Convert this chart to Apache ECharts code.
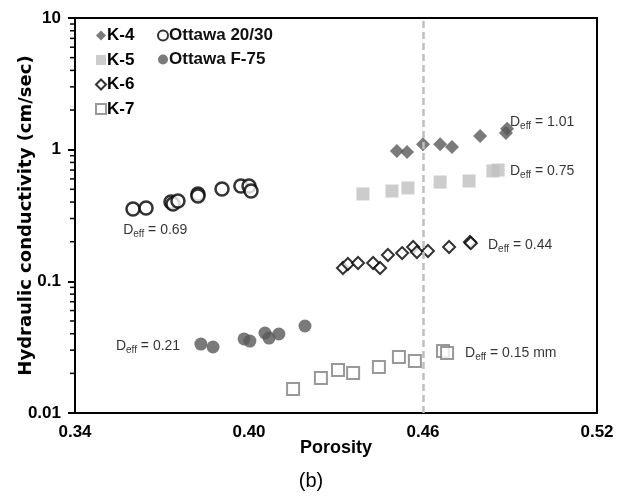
<!DOCTYPE html>
<html><head><meta charset="utf-8">
<script src="https://cdn.jsdelivr.net/npm/echarts@6/dist/echarts.min.js"></script>
<style>html,body{margin:0;padding:0;background:#fff}#c{width:622px;height:497px}</style>
</head><body><div id="c"></div>
<script>
// ---- data (porosity, hydraulic conductivity cm/sec) ----
var k4 = [[0.451,0.977],[0.4545,0.96],[0.460,1.10],[0.4659,1.10],[0.470,1.05],[0.4797,1.27],[0.4886,1.34],[0.489,1.44]];
var k5 = [[0.4393,0.461],[0.4493,0.485],[0.4548,0.512],[0.4659,0.568],[0.4759,0.578],[0.4841,0.689],[0.4859,0.70]];
var k6 = [[0.4324,0.1263],[0.4341,0.1354],[0.4376,0.1378],[0.4428,0.1378],[0.4452,0.1263],[0.4479,0.1585],[0.4528,0.164],[0.4566,0.1823],[0.4579,0.167],[0.4617,0.170],[0.469,0.1823],[0.4762,0.199],[0.4765,0.195]];
var k7 = [[0.4152,0.0152],[0.4248,0.01845],[0.4307,0.0212],[0.4359,0.0201],[0.4448,0.02236],[0.4517,0.0266],[0.4572,0.0248],[0.4669,0.0296],[0.4683,0.0286]];
var ott2030 = [[0.360,0.354],[0.3645,0.3605],[0.3731,0.4005],[0.3738,0.3868],[0.3755,0.4075],[0.3824,0.4606],[0.3824,0.4446],[0.3907,0.5027],[0.3972,0.530],[0.400,0.530],[0.4007,0.485]];
var ottF75 = [[0.3834,0.0334],[0.3876,0.0317],[0.3983,0.0365],[0.4003,0.0352],[0.4055,0.0405],[0.4069,0.0371],[0.4103,0.0398],[0.4193,0.0458]];
var xTicks = [0.34, 0.40, 0.46, 0.52];
var yTicks = [0.01, 0.1, 1, 10];
var minorTicks = [0.02,0.03,0.04,0.05,0.06,0.07,0.08,0.09,0.2,0.3,0.4,0.5,0.6,0.7,0.8,0.9,2,3,4,5,6,7,8,9];
var refPorosity = 0.46;
var annotations = [
  {x:0.490, y:1.62, text:'1.01'},
  {x:0.490, y:0.689, text:'0.75'},
  {x:0.4824, y:0.1888, text:'0.44'},
  {x:0.4745, y:0.0286, text:'0.15 mm'},
  {x:0.3566, y:0.2453, text:'0.69'},
  {x:0.3541, y:0.0323, text:'0.21'}
];

var FONT = "'Liberation Sans', Arial, sans-serif";
var WIDE = "'DejaVu Sans', 'Liberation Sans', sans-serif";
var chart = echarts.init(document.getElementById('c'), null, {renderer:'canvas'});

var rich = {
  a:{fontSize:14, fontFamily:FONT, color:'#000', lineHeight:18, verticalAlign:'middle'},
  b:{fontSize:10, fontFamily:FONT, color:'#000', lineHeight:18, verticalAlign:'bottom', padding:[8,0,0,0]}
};

var option = {
  animation:false,
  backgroundColor:'#fff',
  grid:{left:75, right:25, top:18, bottom:84, show:true, borderColor:'#000', borderWidth:2, backgroundColor:'transparent'},
  xAxis:{
    type:'value', min:xTicks[0], max:xTicks[xTicks.length-1],
    name:'Porosity', nameLocation:'middle', nameGap:26, nameMoveOverlap:false,
    nameTextStyle:{fontFamily:FONT, fontWeight:'bold', fontSize:18, color:'#000'},
    axisLine:{show:true, lineStyle:{color:'#000', width:2}},
    axisTick:{show:false},
    splitLine:{show:false},
    axisLabel:{customValues:xTicks, fontFamily:FONT, fontWeight:'bold', fontSize:17, color:'#000', margin:11,
      formatter:function(v){return (+v).toFixed(2);}}
  },
  yAxis:{
    type:'log', logBase:10, min:yTicks[0], max:yTicks[yTicks.length-1],
    name:'Hydraulic conductivity (cm/sec)', nameLocation:'middle', nameGap:40, nameMoveOverlap:false,
    nameTextStyle:{fontFamily:WIDE, fontWeight:'bold', fontSize:18, color:'#000'},
    axisLine:{show:true, lineStyle:{color:'#000', width:2}},
    axisTick:{show:true, length:7, lineStyle:{color:'#000', width:2}},
    splitLine:{show:false},
    axisLabel:{fontFamily:FONT, fontWeight:'bold', fontSize:17, color:'#000', margin:14,
      formatter:function(v){return String(+(+v).toPrecision(3));}}
  },
  legend:[
    {orient:'vertical', left:95, top:27, itemWidth:10, itemHeight:10, itemGap:7.5, padding:0,
     textStyle:{fontFamily:FONT, fontWeight:'bold', fontSize:17, color:'#000', lineHeight:17, padding:[0,0,0,-4]},
     data:[{name:'K-4', icon:'diamond'},{name:'K-5', icon:'rect'},{name:'K-6', icon:'diamond'},{name:'K-7', icon:'rect'}]},
    {orient:'vertical', left:157, top:27, itemWidth:10, itemHeight:10, itemGap:7, padding:0,
     textStyle:{fontFamily:FONT, fontWeight:'bold', fontSize:17, color:'#111', lineHeight:17, padding:[0,0,0,-4]},
     data:[{name:'Ottawa 20/30', icon:'circle'},{name:'Ottawa F-75', icon:'circle'}]}
  ],
  graphic:[{type:'text', left:'center', top:471, style:{text:'(b)', fontFamily:FONT, fontSize:20, fill:'#000'}}],
  series:[
    {name:'minor', type:'custom', silent:true, clip:false, z:5,
     data:minorTicks.map(function(v){return [xTicks[0], v];}),
     renderItem:function(params, api){
       var p = api.coord([api.value(0), api.value(1)]);
       return {type:'line', shape:{x1:p[0]-5, y1:p[1], x2:p[0], y2:p[1]}, style:{stroke:'#000', lineWidth:1.5}};
     }},
    {name:'K-4', type:'scatter', symbol:'diamond', symbolSize:14, data:k4,
     itemStyle:{color:'#595959'},
     markLine:{silent:true, symbol:'none', label:{show:false},
       lineStyle:{color:'#BFBFBF', type:[7,4], width:2.5}, data:[{xAxis:refPorosity}]}},
    {name:'K-5', type:'scatter', symbol:'rect', symbolSize:13, data:k5, itemStyle:{color:'#BFBFBF'}},
    {name:'K-6', type:'scatter', symbol:'diamond', symbolSize:12, data:k6,
     itemStyle:{color:'#fff', borderColor:'#000', borderWidth:2}},
    {name:'K-7', type:'scatter', symbol:'rect', symbolSize:12, data:k7,
     itemStyle:{color:'#fff', borderColor:'#7F7F7F', borderWidth:2}},
    {name:'Ottawa 20/30', type:'scatter', symbol:'circle', symbolSize:13, data:ott2030,
     itemStyle:{color:'#fff', borderColor:'#000', borderWidth:2.5}},
    {name:'Ottawa F-75', type:'scatter', symbol:'circle', symbolSize:13, data:ottF75, itemStyle:{color:'#595959'}},
    {name:'notes', type:'scatter', silent:true, symbolSize:0, z:10,
     data:annotations.map(function(a){return {value:[a.x, a.y], text:a.text};}),
     label:{show:true, position:'right', distance:0,
       formatter:function(p){return '{a|D}{b|eff}{a| = '+p.data.text+'}';}, rich:rich}}
  ]
};
chart.setOption(option);
</script></body></html>
